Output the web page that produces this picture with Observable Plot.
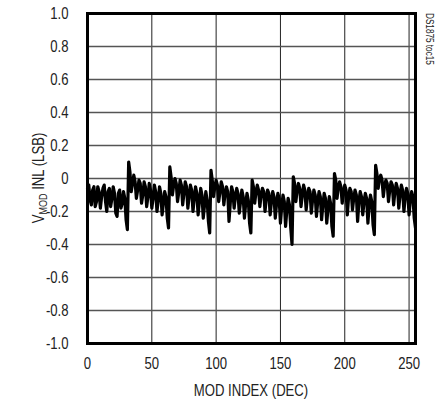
<!DOCTYPE html>
<html><head><meta charset="utf-8">
<script src="https://cdn.jsdelivr.net/npm/d3@7"></script>
<script src="https://cdn.jsdelivr.net/npm/@observablehq/plot@0.6"></script>
<style>body{margin:0;background:#fff}</style>
</head><body><div id="chart"></div>
<script>
const xTicks = [0, 50, 100, 150, 200, 250];
const yTicks = [-1.0, -0.8, -0.6, -0.4, -0.2, 0, 0.2, 0.4, 0.6, 0.8, 1.0];
const xLabel = "MOD INDEX (DEC)";
const yLabelMain = "V";
const yLabelSub = "MOD";
const yLabelRest = " INL (LSB)";
const sideNote = "DS1875 toc15";

// VMOD INL (LSB) for MOD index 0..255
const inl = [
  -0.06,-0.04,-0.13,-0.16,-0.07,-0.05,-0.17,-0.14,-0.05,-0.08,-0.18,-0.11,-0.06,-0.04,-0.14,-0.20,
  -0.08,-0.06,-0.17,-0.12,-0.05,-0.09,-0.21,-0.23,-0.09,-0.07,-0.18,-0.15,-0.08,-0.12,-0.25,-0.31,
  0.10,0.04,-0.08,-0.03,0.02,-0.02,-0.12,-0.07,-0.01,-0.03,-0.15,-0.10,-0.02,-0.05,-0.17,-0.11,
  -0.03,-0.07,-0.18,-0.12,-0.04,-0.08,-0.20,-0.13,-0.05,-0.09,-0.22,-0.15,-0.08,-0.11,-0.24,-0.30,
  0.07,0.01,-0.10,-0.04,0.00,-0.03,-0.14,-0.08,-0.01,-0.04,-0.16,-0.09,-0.02,-0.05,-0.18,-0.11,
  -0.04,-0.07,-0.20,-0.12,-0.05,-0.09,-0.22,-0.14,-0.06,-0.10,-0.24,-0.16,-0.08,-0.13,-0.26,-0.33,
  0.05,-0.01,-0.11,-0.05,-0.01,-0.04,-0.14,-0.08,-0.02,-0.05,-0.16,-0.09,-0.05,-0.08,-0.26,-0.15,
  -0.05,-0.08,-0.18,-0.11,-0.06,-0.09,-0.21,-0.14,-0.07,-0.11,-0.24,-0.15,-0.09,-0.13,-0.27,-0.33,
  -0.01,-0.05,-0.15,-0.08,-0.04,-0.07,-0.17,-0.10,-0.06,-0.08,-0.20,-0.12,-0.07,-0.09,-0.22,-0.14,
  -0.08,-0.11,-0.24,-0.15,-0.09,-0.12,-0.27,-0.17,-0.10,-0.14,-0.29,-0.19,-0.12,-0.16,-0.30,-0.40,
  0.01,-0.03,-0.14,-0.07,-0.03,-0.06,-0.17,-0.10,-0.04,-0.07,-0.19,-0.11,-0.06,-0.08,-0.21,-0.13,
  -0.07,-0.10,-0.23,-0.14,-0.08,-0.11,-0.25,-0.16,-0.09,-0.12,-0.27,-0.18,-0.11,-0.15,-0.29,-0.35,
  0.03,-0.01,-0.12,-0.05,-0.02,-0.05,-0.15,-0.08,-0.04,-0.07,-0.22,-0.11,-0.06,-0.08,-0.19,-0.12,
  -0.07,-0.10,-0.26,-0.14,-0.08,-0.11,-0.22,-0.14,-0.09,-0.12,-0.27,-0.16,-0.10,-0.14,-0.28,-0.34,
  0.08,0.03,-0.06,0.00,0.02,-0.01,-0.11,-0.04,-0.01,-0.03,-0.14,-0.07,-0.02,-0.04,-0.16,-0.08,
  -0.03,-0.06,-0.18,-0.10,-0.04,-0.07,-0.20,-0.11,-0.06,-0.09,-0.22,-0.13,-0.08,-0.11,-0.24,-0.30
];
const data = inl.map((v, i) => ({code: i, inl: v}));

const FONT = "'Liberation Sans',Arial,sans-serif";
const SQUEEZE = 0.82;

const chart = Plot.plot({
  width: 436, height: 403,
  marginLeft: 87, marginRight: 21, marginTop: 13, marginBottom: 60,
  style: {fontFamily: FONT, fontSize: "16px", color: "#222", background: "#fff"},
  x: {domain: [0, 255], ticks: xTicks, tickSize: 0, tickPadding: 14, label: null},
  y: {domain: [-1, 1], ticks: yTicks, tickSize: 0, tickPadding: 19, label: null,
      tickFormat: d => d === 0 ? "0" : d.toFixed(1)},
  marks: [
    Plot.gridX(xTicks, {stroke: "#222", strokeOpacity: 1, strokeWidth: 1}),
    Plot.gridY(yTicks, {stroke: "#555", strokeOpacity: 1, strokeWidth: 1.3}),
    Plot.lineY(data, {x: "code", y: "inl", stroke: "#000", strokeWidth: 3.2, strokeLinejoin: "round"}),
    Plot.frame({stroke: "#000", strokeWidth: 3})
  ]
});
document.getElementById("chart").appendChild(chart);

const svg = d3.select(chart);
svg.append("text")
  .attr("x", 251).attr("y", 396)
  .attr("text-anchor", "middle")
  .attr("font-family", FONT).attr("font-size", 16).attr("fill", "#222")
  .text(xLabel);

const yl = svg.append("text")
  .attr("transform", "translate(44,178) rotate(-90)")
  .attr("text-anchor", "middle")
  .attr("font-family", FONT).attr("font-size", 16).attr("fill", "#222");
yl.append("tspan").text(yLabelMain);
yl.append("tspan").attr("font-size", 11).attr("dy", 3).text(yLabelSub);
yl.append("tspan").attr("dy", -3).text(yLabelRest);

svg.append("text")
  .attr("transform", "translate(426,13) rotate(90)")
  .attr("text-anchor", "start")
  .attr("font-family", FONT).attr("font-size", 10).attr("fill", "#222")
  .text(sideNote);

// condense all text horizontally around its anchor (narrow typeface look)
svg.selectAll("text").each(function() {
  const tr = this.getAttribute("transform") || "";
  const x = parseFloat(this.getAttribute("x")) || 0;
  this.setAttribute("transform", `${tr} translate(${x},0) scale(${SQUEEZE},1) translate(${-x},0)`.trim());
});
</script>
</body></html>
